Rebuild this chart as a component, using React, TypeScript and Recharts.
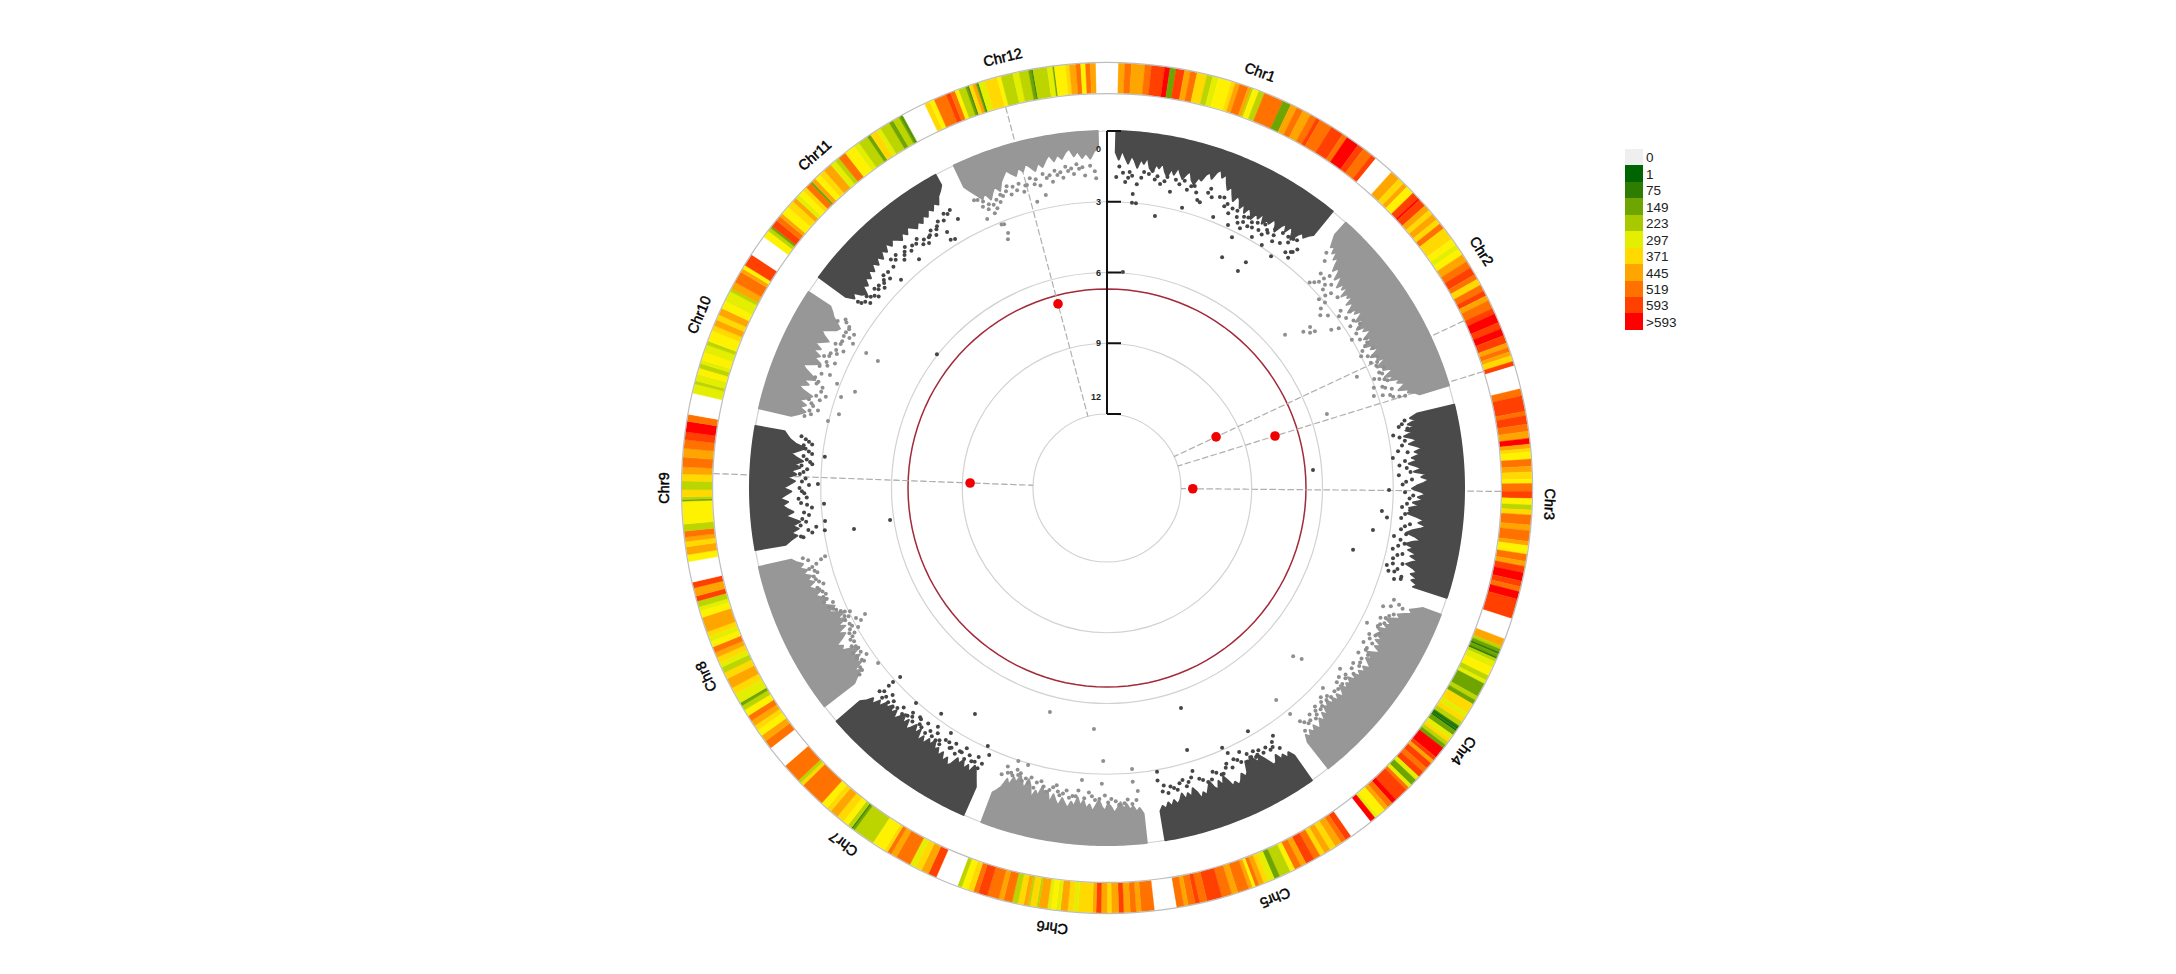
import React from "react";
import { Cell, Pie, PieChart, PolarAngleAxis, PolarGrid, PolarRadiusAxis, Radar, RadarChart } from "recharts";

const WIDTH = 2176;
const HEIGHT = 974;
const CX = 1107;
const CY = 488;

const chrNames = ["Chr1", "Chr2", "Chr3", "Chr4", "Chr5", "Chr6", "Chr7", "Chr8", "Chr9", "Chr10", "Chr11", "Chr12"];
const chrStart = [1.5, 42, 76.5, 110.8, 145, 173.6, 203.7, 232.3, 260, 282.9, 306.2, 334.6];
const chrEnd = [39.2, 73.3, 107.9, 141.7, 170.6, 200.6, 229.2, 257.2, 280, 303.3, 331.3, 358.5];
const labelAngles = [20.2, 57.7, 92.1, 126.4, 157.7, 187.1, 216.5, 244.8, 270, 293, 318.7, 346.4];
const labelValue = -3.65;

// -log10(p) reached by the solid mass of each chromosome, start to end
const chrEnvelopes = [
  [0.9, 1.2, 0.8, 1.1, 1.35, 1.0, 1.2, 1.5, 1.1, 1.3, 1.0, 1.45, 1.6, 1.25, 1.4, 1.15, 1.5, 1.7, 1.3, 1.55, 1.2, 1.45, 1.65, 1.4, 1.25, 1.6, 1.75, 1.4, 1.5, 1.2, 1.05, 1.3, 0.95, 0.8, 1.1, 0.9, 1.25, 1.5, 1.3, 1.6, 1.85, 1.55, 1.7, 2.0, 1.75, 2.1, 1.8, 1.95, 2.2, 1.85, 2.05, 1.7, 2.15, 1.9, 2.0, 1.7, 1.85, 2.15, 1.8, 1.6, 1.9, 1.55, 1.75, 2.05, 1.7, 1.5, 1.65, 1.45, 1.3],
  [0.7, 0.95, 1.2, 1.05, 1.35, 1.15, 1.5, 1.3, 1.6, 1.85, 1.55, 1.75, 2.05, 1.7, 1.95, 2.2, 1.85, 2.1, 1.8, 2.3, 2.0, 2.15, 1.9, 2.35, 2.05, 2.25, 2.5, 2.1, 2.3, 1.95, 2.2, 2.45, 2.1, 2.35, 2.6, 2.15, 2.4, 2.05, 2.3, 2.55, 2.2, 2.45, 2.7, 2.3, 2.5, 2.15, 2.4, 2.65, 2.25, 2.45, 2.1, 2.35, 2.6, 2.2, 2.4, 1.95, 2.2, 2.45, 2.05, 2.3, 1.85, 2.05, 1.7, 1.9, 2.1, 1.65, 1.75, 1.45, 1.3],
  [1.6, 1.95, 1.7, 2.1, 1.85, 2.25, 1.95, 2.35, 2.05, 1.8, 2.2, 1.9, 1.65, 2.0, 1.75, 2.15, 1.9, 2.3, 2.0, 1.75, 2.1, 1.55, 1.8, 1.45, 1.7, 2.0, 2.2, 1.85, 1.6, 1.95, 1.7, 2.15, 1.85, 2.3, 2.05, 2.35, 1.95, 1.6, 1.85, 1.5, 1.75, 2.1, 2.3, 1.9, 1.65, 2.0, 2.25, 1.85, 2.1, 1.7, 1.95, 1.6, 1.85, 2.05, 1.7, 1.5, 1.75, 1.45, 1.65, 1.35, 1.5],
  [0.8, 1.05, 1.3, 1.15, 1.45, 1.7, 1.5, 1.85, 2.05, 1.75, 2.0, 1.8, 2.25, 1.95, 2.15, 1.8, 2.05, 1.7, 1.95, 1.6, 1.85, 2.1, 1.75, 2.0, 1.8, 1.6, 1.9, 1.7, 1.95, 1.75, 2.05, 1.8, 2.15, 1.9, 2.05, 1.85, 2.2, 1.95, 1.75, 2.05, 1.8, 2.1, 1.85, 2.2, 1.95, 2.1, 1.7, 1.95, 1.6, 1.85, 1.65, 1.5, 1.8, 1.55, 1.75, 1.5, 1.7, 1.4],
  [1.3, 1.55, 1.35, 1.6, 1.45, 1.75, 1.5, 1.4, 1.65, 1.9, 2.1, 1.85, 2.05, 2.25, 1.95, 2.15, 1.7, 1.55, 1.75, 1.5, 1.35, 1.55, 1.4, 1.7, 1.95, 1.6, 1.85, 1.5, 1.65, 1.95, 1.7, 1.45, 1.6, 1.35, 1.7, 1.9, 1.55, 1.75, 1.5, 1.8, 1.55, 1.4, 1.6, 1.35, 1.55, 1.3, 1.45, 1.25],
  [1.25, 1.5, 1.35, 1.6, 1.45, 1.7, 1.5, 1.8, 1.55, 1.35, 1.6, 1.75, 1.45, 1.6, 1.9, 1.65, 1.4, 1.7, 1.5, 1.85, 1.6, 1.95, 1.55, 1.75, 1.45, 1.65, 1.85, 1.5, 1.7, 1.95, 1.55, 2.05, 1.8, 2.2, 1.75, 1.95, 1.6, 2.1, 2.35, 1.9, 2.15, 2.4, 2.05, 2.25, 1.85, 2.1, 1.7, 1.5, 1.35],
  [1.3, 1.6, 1.9, 2.1, 1.7, 2.0, 1.75, 2.1, 1.85, 2.05, 1.7, 1.55, 1.85, 1.6, 1.95, 1.7, 2.0, 1.85, 2.2, 1.9, 2.1, 1.75, 2.05, 1.7, 2.2, 1.9, 2.25, 2.0, 1.8, 2.2, 1.9, 2.3, 2.05, 1.8, 2.15, 1.9, 2.2, 1.95, 2.1, 1.75, 1.95, 1.6, 1.8, 1.5, 1.3],
  [1.6, 1.85, 2.15, 1.9, 2.4, 2.1, 2.5, 2.2, 2.65, 2.35, 1.95, 2.1, 1.85, 2.2, 2.45, 2.15, 2.6, 2.3, 2.75, 2.4, 2.8, 2.5, 2.2, 2.55, 2.3, 2.05, 2.4, 2.15, 1.95, 2.25, 2.0, 1.8, 2.1, 1.85, 2.05, 1.75, 1.95, 1.65, 1.85, 1.6, 1.4],
  [1.3, 1.55, 1.85, 1.6, 1.95, 1.7, 2.05, 1.75, 1.45, 1.8, 1.55, 1.35, 1.6, 1.25, 1.5, 1.75, 1.4, 1.65, 1.9, 1.55, 1.95, 1.7, 2.1, 1.85, 2.2, 1.9, 1.65, 1.95, 2.25, 1.8, 1.55, 1.4, 1.25],
  [1.4, 1.7, 1.95, 1.65, 1.9, 1.55, 1.85, 2.05, 1.6, 1.35, 1.75, 1.45, 1.95, 1.7, 1.4, 1.2, 1.6, 1.9, 1.55, 1.75, 1.35, 1.65, 1.3, 1.55, 1.8, 1.5, 1.3, 1.6, 1.85, 1.95, 1.7, 1.45, 1.3, 1.1],
  [1.4, 1.75, 1.55, 1.9, 2.05, 1.7, 1.85, 1.55, 1.75, 1.45, 1.65, 1.35, 1.6, 1.3, 1.55, 1.25, 1.45, 1.15, 1.4, 1.2, 1.35, 1.5, 1.25, 1.45, 1.2, 1.35, 1.5, 1.3, 1.45, 1.2, 1.35, 1.1, 1.25, 1.0, 1.15, 0.85, 0.7, 0.5],
  [1.0, 1.3, 1.55, 1.8, 1.6, 1.95, 1.7, 1.5, 1.75, 1.4, 1.2, 1.0, 1.2, 1.35, 1.05, 1.25, 0.95, 1.15, 1.35, 1.05, 1.25, 1.0, 0.8, 1.1, 0.85, 1.05, 0.8, 0.65, 1.0, 0.8, 1.1, 0.9, 1.15, 0.85, 0.7],
];

// [angle, -log10(p)]
const darkPoints = [
  [1.7, 1.95], [3.4, 2.14], [5, 2.62], [5, 3], [5.8, 3], [9.9, 2.05], [12, 2.3], [15, 2.05], [17.4, 2.34], [18, 2.4], [19.8, 2.03], [24.7, 2.86], [26.5, 3.26], [27.1, 2.76], [30, 2.85], [27.1, 2.47], [32.5, 2.92], [35.2, 2.42], [38.2, 2.4], [37.5, 1.9], [31.8, 2.26],
  [10, 3.43], [15, 2.84], [4.2, 5.95], [26.5, 4.2], [31.6, 3.9], [31.1, 4.39], [35.3, 3.1], [38.2, 2.72], [21.4, 2.8],
  [2.2, 1.5], [4.1, 1.7], [6.3, 1.9], [7.6, 1.7], [8.8, 1.9], [11, 1.7], [13.4, 1.9], [16.2, 1.8], [18.9, 1.9], [21.2, 1.9], [22.6, 2.2], [23.8, 2.4], [25.6, 2.4], [28.6, 2.3], [29.1, 2.5], [31, 2.1], [33.4, 2.3], [34.6, 2.0], [36.4, 2.2], [37.1, 2.6], [38.6, 2.2],
  [2.9, 1.75], [3.9, 1.95], [4.6, 1.85], [5.6, 2.2], [6.7, 1.65], [8.2, 1.55], [9.2, 1.75], [10.6, 1.9], [12.6, 1.75], [14.2, 1.7], [15.6, 1.85], [16.8, 2.05], [19.2, 1.7], [22, 1.85], [23, 2.05], [24.2, 2.15], [25.2, 2.15], [26.2, 2.6], [26.8, 2.25], [27.6, 2.2], [28.2, 2.55], [29.6, 2.2], [30.4, 2.45], [31.4, 2.55], [32.2, 2.35], [33, 2.05], [33.8, 2.55], [35.8, 2.0], [36.8, 1.95], [37.9, 2.45],
  [85, 6.37], [94.8, 3.44], [99, 3.72], [104.1, 4.38], [90.4, 3.18], [96, 3.2], [99.5, 2.8], [105.4, 2.83], [104.8, 2.6], [107.6, 2.37], [93.7, 2.6],
  [78.2, 2.5], [79.6, 2.8], [81, 2.35], [82.8, 2.7], [84, 2.95], [86.2, 2.4], [87.5, 2.75], [88.4, 2.2], [89.3, 2.6], [92, 2.3], [95, 2.45], [97.3, 2.4], [100.6, 2.3], [102, 2.75], [103, 2.5], [106.2, 2.45], [106.8, 2.1], [101.2, 2.55],
  [77.2, 2.2], [77.8, 2.35], [78.8, 2.15], [80.2, 2.55], [81.8, 2.5], [83.2, 2.3], [84.8, 2.45], [85.6, 2.7], [87, 2.25], [88.8, 2.45], [90.8, 2.5], [91.4, 2.15], [93, 2.4], [94.2, 2.25], [95.8, 2.6], [96.8, 2.2], [98, 2.55], [98.8, 2.3], [100, 2.5], [102.6, 2.3], [103.8, 2.65], [104.4, 2.2], [105.6, 2.35], [106.4, 2.7], [107.2, 2.1],
  [161.4, 5.3], [149.9, 3.22], [146.2, 2.49], [163, 3.52], [156.1, 3.09], [170, 2.92], [153.4, 2.62], [155.5, 2.79], [151, 2.38], [151, 2.1],
  [147.4, 2.1], [148.6, 2.25], [150, 2.3], [152.3, 2.4], [153.9, 2.2], [155, 2.45], [157, 2.25], [158.2, 2.05], [159.6, 2.3], [161, 1.95], [162.4, 2.2], [163.2, 2.6], [164.5, 2.2], [165.5, 2.35], [166.8, 2.0], [168, 2.2], [169.2, 2.3], [170.2, 2.55],
  [146.4, 1.9], [147, 2.3], [148, 2.05], [149.4, 2.1], [150.6, 2.15], [151.8, 2.2], [152.8, 2.1], [154.4, 2.35], [155.8, 2.15], [156.6, 2.4], [157.8, 2.05], [159, 2.2], [160.2, 2.0], [161.8, 2.1], [163.8, 2.35], [165, 2.05], [166.2, 2.25], [167.4, 2.1], [168.6, 1.95], [169.6, 2.05],
  [210.3, 4.04], [216.3, 3.26], [204.8, 3.09], [203.8, 2.76], [221.6, 2.94], [227.6, 3.26], [227.8, 2.89], [227.8, 2.65], [212.5, 2.82], [215.3, 2.73],
  [204.4, 2.3], [205.5, 2.5], [206.4, 2.2], [207.2, 2.4], [208.3, 2.6], [209.2, 2.35], [210.5, 2.55], [211.2, 2.25], [212.6, 2.45], [213.6, 2.3], [214.6, 2.5], [216, 2.4], [217.2, 2.6], [218.4, 2.35], [219.2, 2.6], [220.4, 2.4], [221.2, 2.3], [222.8, 2.45], [223.6, 2.25], [225, 2.35], [226, 2.5], [227, 2.1], [228.2, 2.2],
  [204.8, 2.05], [205.8, 2.25], [207.8, 2.15], [208.8, 2.35], [209.8, 2.15], [210.9, 2.3], [211.8, 2.45], [213.2, 2.15], [214.2, 2.2], [215.2, 2.25], [216.6, 2.2], [217.8, 2.3], [218.8, 2.55], [219.8, 2.25], [220.8, 2.55], [222.2, 2.2], [224.4, 2.15], [225.6, 2.15], [226.6, 2.25], [227.6, 2.35],
  [261.6, 5.84], [260.8, 4.27], [263.3, 3.1], [261.5, 3.04], [266.8, 3.12], [270.8, 2.88], [276.3, 3.1],
  [260.8, 2.1], [261.4, 2.5], [262.4, 2.7], [263.6, 2.3], [264.8, 2.45], [266.2, 2.6], [267.2, 2.15], [268.2, 2.4], [269.4, 2.2], [270.6, 2.5], [271.8, 2.35], [272.6, 2.1], [273.6, 2.4], [274.6, 2.6], [275.4, 2.35], [276.6, 2.55], [277.4, 2.25], [278.4, 2.5], [279.2, 2.2],
  [261, 2.0], [262, 2.35], [263, 2.05], [264.2, 2.15], [265.4, 2.25], [266.8, 2.4], [268, 2.05], [269, 2.3], [270, 2.1], [271.2, 2.2], [273, 2.25], [274.2, 2.15], [275, 2.5], [276, 2.2], [277, 2.4], [278, 2.15], [278.8, 2.35], [279.6, 2.0],
  [308.2, 5.96], [315.3, 2.72], [320.6, 2.58], [328.6, 2.77], [327.8, 2.7], [331, 2.1], [328, 2.34],
  [307, 2.1], [308, 2.4], [309, 2.25], [310, 2.5], [311, 2.3], [312, 2.45], [313, 2.2], [314, 2.35], [316, 2.1], [317.2, 1.95], [318.4, 2.2], [319.4, 1.95], [320.5, 2.1], [322, 2.0], [323, 2.2], [324, 2.3], [325, 2.05], [326, 2.2], [327, 1.9], [328.6, 1.85], [329.8, 1.7], [330.5, 1.6],
  [306.8, 1.95], [307.6, 2.2], [308.6, 2.1], [309.6, 2.35], [310.6, 2.15], [311.6, 2.2], [312.6, 2.3], [313.6, 2.05], [314.6, 2.1], [316.6, 1.8], [317.8, 1.8], [319, 2.05], [320, 1.8], [321.2, 1.95], [322.6, 1.85], [323.6, 2.05], [324.6, 2.1], [325.6, 1.9], [326.6, 2.0], [327.6, 1.75], [329.2, 1.6],
];

const grayPoints = [
  [49.3, 5.18], [51.5, 4.5], [54.8, 3.5], [51.6, 4.15], [53, 4.1], [52.6, 4.3], [66, 3.54], [71.4, 5.3], [71, 3.17],
  [44.6, 2.9], [45.2, 2.75], [45.8, 2.6], [44.9, 2.3], [46.4, 2.1], [47, 2.5], [47.8, 2.3], [48.3, 3.1], [48.6, 2.8], [49.6, 3.0], [50, 3.3], [51, 3.5], [52, 3.25], [53.5, 2.9], [54.6, 2.7], [55.4, 3.2], [56.4, 2.75], [57.6, 2.5], [58.8, 3.0], [59.6, 2.7], [60.8, 2.5], [61.8, 2.85], [62.6, 3.0], [63.6, 2.55], [64.6, 2.75], [65.6, 2.6], [67, 2.6], [67.8, 2.9], [68.6, 2.5], [69.4, 3.05], [70.2, 2.6], [71.4, 2.8], [72.3, 2.4], [72.8, 1.9],
  [43, 1.5], [43.8, 1.8], [46, 2.35], [47.4, 2.7], [49, 2.55], [50.4, 2.45], [52.8, 2.7], [54, 2.4], [55.8, 2.5], [57, 2.35], [58.2, 2.7], [60, 2.45], [61.2, 2.65], [62.2, 2.4], [63.2, 2.75], [64, 2.4], [65, 2.5], [66.4, 2.35], [67.4, 2.5], [68.2, 2.7], [69, 2.4], [69.8, 2.7], [70.8, 2.35], [71.8, 2.5], [72.6, 2.15],
  [132.1, 4.5], [131.3, 4.15], [141.4, 3.64], [141, 2.8], [117.4, 2.72], [113.2, 2.4], [111.3, 2.08], [119.1, 2.41], [125.4, 2.33], [127.8, 2.63], [132.8, 2.66], [130.2, 2.38],
  [111.8, 1.8], [112.6, 2.1], [114.4, 2.0], [115.4, 2.3], [116.5, 2.2], [118.2, 2.05], [119.8, 2.3], [121, 2.45], [122, 2.2], [123.2, 2.4], [124.6, 2.1], [126.4, 2.25], [128.6, 2.2], [129.2, 2.45], [131, 2.15], [133.4, 2.3], [134.4, 2.45], [135.4, 2.15], [136.4, 2.35], [137.2, 2.05], [138.2, 2.25], [139.4, 2.0], [140.4, 2.3],
  [112.2, 1.6], [113.8, 1.85], [115, 2.1], [116, 2.05], [117, 2.25], [118.8, 2.15], [120.4, 2.1], [121.6, 2.2], [122.6, 2.0], [123.8, 2.15], [125.2, 2.05], [127, 2.05], [128, 2.3], [129.8, 2.15], [131.8, 2.2], [133, 2.15], [134, 2.2], [135, 2.3], [136, 2.1], [136.9, 2.2], [137.8, 1.95], [138.8, 2.05], [139.9, 2.15], [140.8, 1.85],
  [180.8, 3.56], [174.9, 3.18], [175, 2.63], [181, 2.59], [174.2, 2.22], [194.3, 5.34], [183.1, 4.9], [198, 2.97], [195.9, 2.92], [184.9, 2.71],
  [174.6, 1.85], [176.2, 1.9], [177.8, 1.7], [179.2, 1.95], [180.4, 2.1], [182.2, 1.9], [183.4, 2.2], [185.4, 2.25], [186.4, 2.0], [187.6, 2.2], [188.8, 1.95], [189.6, 2.35], [190.8, 2.1], [192, 2.2], [193.4, 2.3], [194.6, 2.45], [195.6, 2.35], [196.8, 2.5], [197.6, 2.6], [198.6, 2.4], [199.6, 2.6], [200.2, 2.2],
  [175.4, 1.7], [176.8, 1.75], [178.4, 1.85], [179.8, 1.8], [181.4, 1.95], [182.8, 2.05], [184.2, 1.95], [185.8, 2.0], [187, 1.9], [188.2, 2.05], [189.2, 2.1], [190.2, 2.25], [191.4, 2.0], [192.6, 2.4], [193.8, 2.05], [195, 2.2], [196.2, 2.2], [197.2, 2.4], [198.2, 2.3], [199.2, 2.35],
  [232.6, 2.92], [242.5, 3.57], [241.8, 3.3], [237.3, 2.6], [256.4, 2.84], [256, 2.64], [255.4, 2.4],
  [233.4, 2.2], [234.6, 2.5], [235.4, 2.75], [235.6, 2.3], [236.4, 2.6], [238.2, 2.4], [239.4, 2.5], [240.2, 2.8], [240.8, 3.05], [241.6, 2.85], [242.6, 3.15], [243.6, 2.9], [244.4, 3.05], [245.2, 2.7], [246.2, 2.45], [247.4, 2.55], [248.4, 2.35], [249.4, 2.4], [250.6, 2.2], [251.4, 2.45], [252.6, 2.2], [253.8, 2.35], [254.8, 2.05], [256.4, 2.1], [257, 1.9],
  [233, 2.0], [234, 2.2], [235, 2.45], [236, 2.35], [237, 2.3], [237.8, 2.55], [238.8, 2.6], [239.8, 2.65], [240.6, 2.6], [241.2, 2.7], [242.2, 2.8], [243.2, 2.7], [244, 2.75], [244.8, 2.85], [245.8, 2.55], [246.8, 2.3], [248, 2.2], [249, 2.25], [250, 2.3], [251, 2.15], [252, 2.3], [253.2, 2.15], [254.2, 2.25], [255, 2.2],
  [285.4, 3.35], [283.5, 2.97], [290.9, 3.7], [288.9, 3.22], [299.3, 3.43], [299, 4.03], [291.1, 2.87], [292.2, 2.45],
  [284, 2.2], [285, 2.45], [286, 2.1], [287, 2.4], [288, 2.6], [289.4, 2.35], [290.2, 2.1], [293.6, 2.2], [294.6, 2.45], [295.4, 2.1], [296.4, 2.35], [297.4, 2.55], [298.4, 2.3], [299.6, 2.75], [300.2, 2.5], [301.2, 2.6], [302, 2.25], [302.8, 1.95], [301.8, 1.7],
  [283.4, 1.95], [284.6, 2.1], [285.6, 2.2], [286.6, 1.95], [287.6, 2.2], [288.6, 2.35], [289.8, 2.05], [290.8, 1.9], [291.8, 2.1], [293, 1.9], [294.2, 2.1], [295, 1.9], [296, 2.1], [297, 2.25], [298, 2.1], [299, 2.3], [300, 2.25], [300.8, 2.25], [301.6, 2.3], [302.4, 2.05],
  [338.3, 3.78], [338.8, 3.54], [338.7, 3.13], [338.2, 3.1], [336, 2.65], [346.3, 2.65], [348.2, 2.45],
  [335.2, 1.7], [336.2, 2.1], [337, 2.3], [337.8, 2.55], [338.6, 2.4], [339.6, 2.2], [340.4, 2.0], [341.2, 1.85], [342, 2.05], [343.2, 1.95], [344.4, 2.1], [345.2, 1.85], [346.6, 1.9], [347.6, 2.0], [349, 1.75], [350, 1.95], [351, 1.7], [352, 1.85], [353, 1.6], [354, 1.75], [355, 1.55], [356, 1.85], [357, 1.45], [358, 2.0], [357.8, 1.7],
  [335.8, 1.75], [336.6, 1.9], [337.4, 2.1], [338.2, 2.2], [339, 2.05], [340, 1.9], [341.6, 1.65], [342.6, 1.75], [343.8, 1.7], [344.9, 1.85], [346, 1.6], [347, 1.7], [348.4, 1.55], [349.6, 1.65], [350.6, 1.5], [351.6, 1.6], [352.6, 1.4], [353.6, 1.5], [354.6, 1.35], [355.6, 1.5],
];

const hitPoints = [[64.9, 10.03], [72.8, 7.68], [90.5, 11.5], [272.1, 9.33], [345.1, 7.06]];
const threshold = 6.7;
const thresholdAngles = Array.from({ length: 121 }, (_, i) => i * 3);
const axisTicks = [0, 3, 6, 9, 12];
const dashEnds = [12, -1.62];

// gene-density stripes round the outer ring as [count, width], one list per chromosome
const chrStripes = [
  [[445, 1], [519, 1], [445, 2], [519, 1], [593, 2], [600, 0.8], [149, 0.9], [593, 1.3], [445, 0.9], [519, 1], [371, 1.5], [223, 0.9], [297, 0.9], [330, 2], [371, 0.6], [445, 0.7], [519, 1.3], [445, 0.5], [223, 0.3], [330, 0.9], [223, 0.9], [519, 3], [149, 1.3], [445, 1], [519, 1], [445, 1.3], [519, 1], [593, 0.6], [519, 2], [593, 2], [519, 0.8], [600, 2], [593, 1], [519, 1.5], [593, 0.8]],
  [[445, 1.5], [371, 1], [445, 0.7], [330, 1.3], [593, 1.1], [600, 0.3], [593, 1.2], [445, 0.9], [371, 0.8], [445, 1], [371, 0.8], [519, 0.9], [371, 2], [330, 1], [297, 0.8], [330, 1], [445, 1.2], [519, 1.1], [593, 1.2], [519, 0.8], [371, 1], [519, 1], [593, 0.8], [445, 0.8], [519, 1.3], [593, 0.9], [600, 1.4], [593, 1], [600, 1.1], [593, 1.2], [445, 0.7], [519, 0.7], [445, 0.6], [371, 0.9], [593, 0.7]],
  [[519, 1], [593, 2.2], [519, 0.6], [593, 1.2], [519, 1], [445, 1], [600, 0.8], [445, 0.6], [371, 0.5], [330, 1], [519, 1], [445, 0.8], [371, 1], [330, 0.6], [519, 1.1], [593, 1], [330, 0.9], [223, 0.7], [371, 0.7], [519, 1.4], [445, 0.8], [519, 1.5], [445, 0.6], [330, 1.2], [519, 1], [445, 0.7], [593, 0.9], [600, 1.2], [593, 0.8], [519, 0.7], [600, 1.1], [593, 2.8]],
  [[445, 1.2], [223, 0.5], [149, 0.5], [75, 0.3], [149, 0.5], [75, 0.3], [223, 0.5], [297, 1], [330, 1.4], [223, 0.8], [297, 0.6], [149, 2.2], [223, 0.7], [149, 0.7], [371, 1.6], [297, 0.8], [371, 0.8], [223, 0.8], [75, 0.3], [1, 0.2], [75, 0.2], [1, 0.2], [149, 0.8], [297, 0.7], [371, 0.6], [223, 0.6], [149, 0.6], [600, 1.8], [593, 0.6], [445, 0.6], [593, 1], [519, 0.8], [593, 1], [297, 0.7], [149, 1], [297, 0.6], [519, 0.5], [593, 2.2], [600, 0.8], [519, 0.9], [445, 0.7], [330, 1.4], [297, 0.5], [600, 0.9]],
  [[593, 1], [519, 0.8], [445, 1.1], [371, 1], [445, 1], [371, 0.8], [519, 1.1], [593, 1.4], [445, 0.9], [519, 1.1], [330, 0.8], [223, 1.8], [149, 0.9], [297, 1], [371, 0.8], [445, 0.8], [519, 0.6], [330, 0.5], [445, 0.6], [519, 1.8], [445, 1], [519, 1.6], [593, 2.4], [519, 1.2], [593, 0.7], [519, 1.1], [445, 0.7], [519, 1.2]],
  [[519, 1.8], [445, 0.7], [519, 0.8], [445, 0.9], [593, 0.7], [445, 1], [371, 0.6], [445, 0.8], [593, 0.7], [445, 0.5], [371, 2], [297, 0.6], [371, 0.8], [445, 1], [297, 0.6], [330, 0.7], [297, 0.5], [445, 1.2], [223, 0.3], [371, 0.9], [223, 0.3], [445, 0.6], [371, 0.8], [223, 0.8], [519, 1.2], [445, 0.7], [519, 1.6], [593, 1.3], [519, 0.7], [371, 0.8], [330, 0.9], [223, 0.6]],
  [[593, 1], [445, 0.9], [371, 0.8], [297, 0.7], [519, 1.8], [445, 0.7], [519, 0.5], [371, 0.4], [330, 1.6], [223, 2.6], [149, 0.3], [75, 0.15], [223, 0.5], [330, 0.7], [371, 0.9], [445, 1], [371, 0.6], [330, 0.8], [519, 3], [371, 0.4], [223, 0.4], [519, 2.3]],
  [[519, 1], [445, 0.8], [330, 0.8], [371, 0.6], [445, 0.7], [519, 0.7], [330, 0.8], [223, 0.6], [149, 0.4], [297, 1.2], [371, 0.8], [445, 1.2], [371, 0.8], [223, 0.7], [297, 0.6], [371, 0.7], [445, 0.6], [519, 0.7], [330, 0.7], [297, 0.6], [371, 0.6], [445, 1.8], [330, 0.8], [297, 0.5], [223, 0.7], [593, 0.6], [445, 1], [593, 0.7]],
  [[330, 0.8], [445, 0.9], [371, 0.6], [445, 0.5], [519, 0.7], [223, 0.8], [330, 2.6], [149, 0.2], [223, 0.3], [371, 0.8], [223, 1], [371, 0.8], [445, 0.8], [519, 1.1], [445, 1], [519, 1], [593, 0.9], [600, 1.2], [519, 0.8]],
  [[297, 1.2], [223, 0.4], [297, 0.9], [330, 0.8], [223, 0.6], [297, 0.5], [330, 1], [297, 1], [223, 0.5], [330, 1.4], [371, 0.7], [445, 0.8], [371, 0.7], [445, 0.9], [330, 1], [297, 1.4], [223, 0.4], [445, 0.9], [519, 1.5], [445, 0.5], [330, 0.5], [593, 1.6]],
  [[330, 1], [223, 0.5], [149, 0.3], [593, 1], [519, 0.7], [445, 0.5], [330, 1.2], [371, 1], [445, 0.6], [297, 0.6], [330, 0.8], [371, 0.6], [519, 0.8], [149, 0.3], [445, 0.6], [330, 0.8], [371, 0.8], [445, 1.2], [297, 0.8], [223, 0.6], [519, 1.1], [330, 1.5], [297, 0.8], [223, 1.4], [149, 0.5], [371, 1], [297, 0.6], [223, 1.4], [149, 0.6], [223, 0.9], [149, 0.3], [75, 0.15], [149, 0.15]],
  [[371, 0.7], [330, 0.6], [519, 1.6], [593, 0.6], [519, 0.6], [330, 0.5], [223, 0.9], [149, 0.3], [75, 0.15], [371, 0.5], [445, 0.4], [149, 0.2], [75, 0.15], [297, 0.8], [371, 1.6], [330, 0.5], [223, 1.5], [297, 0.8], [223, 1.2], [149, 0.4], [75, 0.15], [223, 1.8], [297, 0.7], [149, 0.2], [330, 1.4], [371, 0.5], [445, 0.8], [519, 0.6], [330, 0.6], [519, 0.6], [445, 0.7]],
];

const legendLabels = ["0", "1", "75", "149", "223", "297", "371", "445", "519", "593", ">593"];
const legendColors = ["#efefef", "#006400", "#2f7d00", "#6fa500", "#a8c800", "#e4ee00", "#ffd900", "#ffa500", "#ff7200", "#ff4000", "#ff0000"];

function countColor(count: number) {
  if (count >= 600) return legendColors[10];
  if (count === 330) return "#fff200";
  if (count === 223) return "#bcd400";
  const bins = [0, 1, 75, 149, 223, 297, 371, 445, 519, 593];
  return legendColors[bins.indexOf(count)];
}

const ringRows: { width: number; fill: string }[] = [];
chrStripes.forEach((stripes, c) => {
  const span = chrEnd[c] - chrStart[c];
  const total = stripes.reduce((sum, s) => sum + s[1], 0);
  stripes.forEach((s) => ringRows.push({ width: (s[1] * span) / total, fill: countColor(s[0]) }));
  const next = c === 11 ? chrStart[0] + 360 : chrStart[c + 1];
  ringRows.push({ width: next - chrEnd[c], fill: "#ffffff" });
});

// each mass is a closed outline: along the jagged edge, then back along the value-0 arc
const massRows = chrEnvelopes.map((env, c) => {
  const edge = env.map((value, i) => ({
    angle: chrStart[c] + (i * (chrEnd[c] - chrStart[c])) / (env.length - 1),
    value,
  }));
  const arc = [...edge].reverse().map((row) => ({ angle: row.angle, value: 0 }));
  return [...edge, ...arc];
});
const toRows = (points: number[][]) => points.map((p) => ({ angle: p[0], value: p[1] }));
const labelRows = chrNames.map((name, c) => ({ angle: labelAngles[c], value: labelValue, name }));
const thresholdRows = thresholdAngles.map((angle) => ({ angle, value: threshold }));
const dashRows = hitPoints.map((p) => dashEnds.map((value) => ({ angle: p[0], value })));

const pointDot = (color: string, r: number) => (props: any) => (
  <circle key={props.index} cx={props.cx} cy={props.cy} r={r} fill={color} />
);

const labelDot = (props: any) => (
  <text
    key={props.index}
    x={props.cx}
    y={props.cy}
    textAnchor="middle"
    dominantBaseline="central"
    fontFamily="Liberation Sans, Arial, sans-serif"
    fontSize={14.5}
    stroke="#000"
    strokeWidth={0.45}
    fill="#000"
    transform={`rotate(${props.payload.angle} ${props.cx} ${props.cy})`}
  >
    {props.payload.name}
  </text>
);

const radiusTick = (props: any) => {
  const shift = props.payload.value === 0 ? 18 : props.payload.value === 12 ? -17 : 0;
  return (
    <g>
      <line x1={CX} x2={CX + 14} y1={props.y} y2={props.y} stroke="#111" strokeWidth={2} />
      <text
        x={CX - 6}
        y={props.y + shift}
        textAnchor="end"
        dominantBaseline="central"
        fontFamily="Liberation Sans, Arial, sans-serif"
        fontSize={9}
        fontWeight={700}
        fill="#222"
      >
        {props.payload.value}
      </text>
    </g>
  );
};

const layer: React.CSSProperties = { position: "absolute", left: 0, top: 0 };

// every series gets its own transparent polar layer, because a Radar sends rows it has no value for to the centre
function PolarLayer({ data, children, showAxis, showGrid }: { data: any[]; children?: React.ReactNode; showAxis?: boolean; showGrid?: boolean }) {
  return (
    <RadarChart
      width={WIDTH}
      height={HEIGHT}
      style={layer}
      data={data}
      cx={CX}
      cy={CY}
      innerRadius={74}
      outerRadius={357}
      startAngle={90}
      endAngle={-270}
      margin={{ top: 0, right: 0, bottom: 0, left: 0 }}
    >
      {showGrid && <PolarGrid gridType="circle" radialLines={false} stroke="#d2d2d2" strokeWidth={1.2} />}
      <PolarAngleAxis dataKey="angle" type="number" domain={[0, 360]} tick={false} axisLine={false} />
      {children}
      <PolarRadiusAxis
        angle={90}
        type="number"
        domain={[0, 12]}
        reversed
        allowDataOverflow
        ticks={axisTicks as any}
        tickCount={5}
        axisLine={showAxis ? { stroke: "#111", strokeWidth: 2 } : false}
        tickLine={false}
        tick={showAxis ? radiusTick : false}
      />
    </RadarChart>
  );
}

export default function App() {
  return (
    <div style={{ position: "absolute", left: 0, top: 0, width: WIDTH, height: HEIGHT, background: "#fff", overflow: "hidden" }}>
      <PieChart width={WIDTH} height={HEIGHT} style={layer} margin={{ top: 0, right: 0, bottom: 0, left: 0 }}>
        <Pie
          data={ringRows}
          dataKey="width"
          cx={CX}
          cy={CY}
          innerRadius={395}
          outerRadius={425}
          startAngle={90 - chrStart[0]}
          endAngle={90 - chrStart[0] - 360}
          isAnimationActive={false}
        >
          {ringRows.map((row, i) => (
            <Cell key={i} fill={row.fill} stroke={row.fill} strokeWidth={0.4} />
          ))}
        </Pie>
        <Pie data={[{ width: 1 }]} dataKey="width" cx={CX} cy={CY} innerRadius={425} outerRadius={426.2} fill="#bdbdbd" stroke="none" isAnimationActive={false} />
        <Pie data={[{ width: 1 }]} dataKey="width" cx={CX} cy={CY} innerRadius={393.8} outerRadius={395} fill="#bdbdbd" stroke="none" isAnimationActive={false} />
      </PieChart>
      <PolarLayer data={thresholdRows} showGrid>
        <Radar dataKey="value" stroke="#a32a3a" strokeWidth={1.5} fill="none" isAnimationActive={false} />
      </PolarLayer>
      {dashRows.map((data, i) => (
        <PolarLayer key={i} data={data}>
          <Radar dataKey="value" stroke="#b0b0b0" strokeWidth={1.2} strokeDasharray="5 4" fill="none" isAnimationActive={false} />
        </PolarLayer>
      ))}
      {massRows.map((data, c) => (
        <PolarLayer key={c} data={data}>
          <Radar
            dataKey="value"
            stroke={c % 2 === 0 ? "#4a4a4a" : "#979797"}
            strokeWidth={2}
            strokeLinejoin="round"
            fill={c % 2 === 0 ? "#4a4a4a" : "#979797"}
            fillOpacity={1}
            isAnimationActive={false}
          />
        </PolarLayer>
      ))}
      <PolarLayer data={toRows(darkPoints)}>
        <Radar dataKey="value" stroke="none" fill="none" dot={pointDot("#454545", 2)} isAnimationActive={false} />
      </PolarLayer>
      <PolarLayer data={toRows(grayPoints)}>
        <Radar dataKey="value" stroke="none" fill="none" dot={pointDot("#8f8f8f", 2)} isAnimationActive={false} />
      </PolarLayer>
      <PolarLayer data={toRows(hitPoints)}>
        <Radar dataKey="value" stroke="none" fill="none" dot={pointDot("#f00000", 4.8)} isAnimationActive={false} />
      </PolarLayer>
      <PolarLayer data={labelRows}>
        <Radar dataKey="value" stroke="none" fill="none" dot={labelDot} isAnimationActive={false} />
      </PolarLayer>
      <PolarLayer data={thresholdRows} showAxis />
      <div style={{ position: "absolute", left: 1625, top: 149 }}>
        {legendLabels.map((label, i) => (
          <div key={label} style={{ display: "flex", alignItems: "center", height: 16.45 }}>
            <div style={{ width: 18, height: "100%", background: legendColors[i] }} />
            <span style={{ marginLeft: 3, fontFamily: "Liberation Sans, Arial, sans-serif", fontSize: 13.5, color: "#222", lineHeight: 1, position: "relative", top: 1 }}>{label}</span>
          </div>
        ))}
      </div>
    </div>
  );
}
